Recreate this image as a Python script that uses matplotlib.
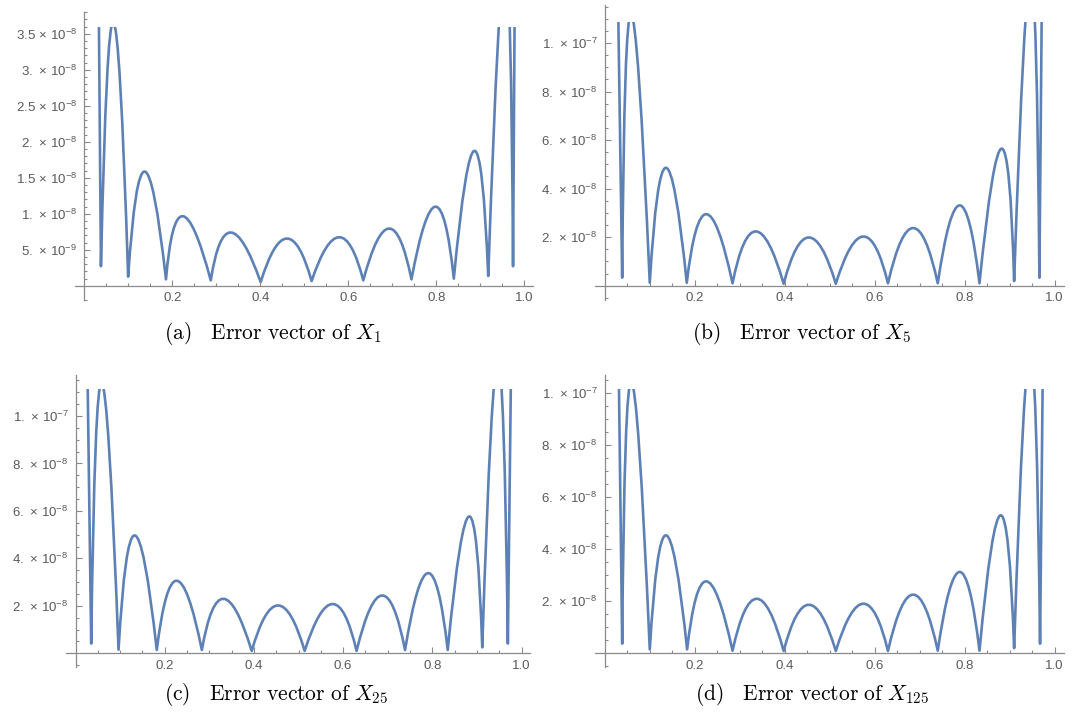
import matplotlib
matplotlib.use("Agg")
import matplotlib.pyplot as plt
from matplotlib.path import Path
from matplotlib.patches import PathPatch, Rectangle
from matplotlib.ticker import FixedLocator, NullFormatter

plt.rcParams['mathtext.fontset'] = 'custom'
plt.rcParams['mathtext.rm'] = 'Liberation Sans'
plt.rcParams['mathtext.it'] = 'Liberation Sans:italic'
plt.rcParams['mathtext.bf'] = 'Liberation Sans:bold'
plt.rcParams['font.family'] = ['Liberation Sans', 'DejaVu Sans']

# ---------------- data ----------------
captions = [r'$\mathrm{(a)\ \ \ Error\ vector\ of\ }X_{1}$',
            r'$\mathrm{(b)\ \ \ Error\ vector\ of\ }X_{5}$',
            r'$\mathrm{(c)\ \ \ Error\ vector\ of\ }X_{25}$',
            r'$\mathrm{(d)\ \ \ Error\ vector\ of\ }X_{125}$']

x_ticks = [0.2, 0.4, 0.6, 0.8, 1.0]
x_tick_labels = ['0.2', '0.4', '0.6', '0.8', '1.0']

# panel (a)
a_start = (0.0318, 45e-9)
a_end = (0.9785, 45e-9)
a_min_x = [0.0376, 0.0994, 0.1854, 0.2872, 0.4006, 0.5164, 0.6338, 0.7433, 0.8396, 0.9178, 0.9742]
a_min_y = [2.7e-9, 1.26e-9, 0.88e-9, 0.74e-9, 0.5e-9, 0.65e-9, 0.74e-9, 0.88e-9, 0.98e-9, 1.35e-9, 2.7e-9]
a_peak_x = [0.0657, 0.1369, 0.2230, 0.3326, 0.4601, 0.5790, 0.6925, 0.7981, 0.8865, 0.9560]
a_peak_y = [36.6e-9, 15.86e-9, 9.67e-9, 7.4e-9, 6.56e-9, 6.74e-9, 7.95e-9, 10.98e-9, 18.74e-9, 44.4e-9]
a_clip = 36.0e-9
a_yticks = [5e-9, 10e-9, 15e-9, 20e-9, 25e-9, 30e-9, 35e-9]
a_ylabels = [r'$5.\,\times\,10^{-9}$', r'$1.\,\times\,10^{-8}$', r'$1.5\,\times\,10^{-8}$',
             r'$2.\,\times\,10^{-8}$', r'$2.5\,\times\,10^{-8}$', r'$3.\,\times\,10^{-8}$',
             r'$3.5\,\times\,10^{-8}$']

# panel (b)
b_start = (0.0295, 125e-9)
b_end = (0.9722, 125e-9)
b_min_x = [0.0393, 0.1006, 0.1828, 0.2845, 0.3981, 0.5140, 0.6299, 0.7406, 0.8333, 0.9103, 0.9664]
b_min_y = [3.3e-9, 1.2e-9, 1.2e-9, 1.0e-9, 0.8e-9, 0.8e-9, 1.0e-9, 1.0e-9, 1.0e-9, 1.9e-9, 3.3e-9]
b_peak_x = [0.0590, 0.1364, 0.2262, 0.3361, 0.4542, 0.5755, 0.6860, 0.7893, 0.8826, 0.9470]
b_peak_y = [111.9e-9, 48.6e-9, 29.5e-9, 22.4e-9, 19.9e-9, 20.3e-9, 23.8e-9, 33.1e-9, 56.5e-9, 126.4e-9]
b_clip = 108.8e-9

# panel (c)
c_start = (0.0262, 128e-9)
c_end = (0.9770, 128e-9)
c_min_x = [0.0352, 0.0965, 0.1822, 0.2833, 0.3951, 0.5138, 0.6302, 0.7389, 0.8346, 0.9120, 0.9694]
c_min_y = [4.1e-9, 1.5e-9, 1.4e-9, 1.4e-9, 1.0e-9, 1.0e-9, 1.0e-9, 1.4e-9, 1.4e-9, 2.5e-9, 4.1e-9]
c_peak_x = [0.0585, 0.1325, 0.2266, 0.3315, 0.4541, 0.5766, 0.6876, 0.7910, 0.8828, 0.9470]
c_peak_y = [114e-9, 49.7e-9, 30.6e-9, 23.0e-9, 20.2e-9, 20.8e-9, 24.4e-9, 33.8e-9, 57.7e-9, 122.7e-9]
c_clip = 111.2e-9

# panel (d)
d_start = (0.0310, 118e-9)
d_end = (0.9745, 118e-9)
d_min_x = [0.0393, 0.1006, 0.1836, 0.2845, 0.3981, 0.5140, 0.6299, 0.7406, 0.8333, 0.9103, 0.9679]
d_min_y = [3.7e-9, 1.5e-9, 1.5e-9, 1.0e-9, 0.9e-9, 0.9e-9, 0.9e-9, 1.0e-9, 1.0e-9, 2.0e-9, 3.7e-9]
d_peak_x = [0.0595, 0.1364, 0.2262, 0.3383, 0.4542, 0.5755, 0.6860, 0.7893, 0.8804, 0.9460]
d_peak_y = [104.3e-9, 45.4e-9, 27.7e-9, 21.0e-9, 18.7e-9, 19.1e-9, 22.6e-9, 31.3e-9, 53.1e-9, 115.4e-9]
d_clip = 101.5e-9

bcd_yticks = [2e-8, 4e-8, 6e-8, 8e-8, 1e-7]
bcd_ylabels = [r'$2.\,\times\,10^{-8}$', r'$4.\,\times\,10^{-8}$', r'$6.\,\times\,10^{-8}$',
               r'$8.\,\times\,10^{-8}$', r'$1.\,\times\,10^{-7}$']

# ---------------- layout (pixels) ----------------
W, H = 1072, 715
LINE_COLOR = '#5e81b5'
AX_COLOR = '#8a8a8a'
LBL_COLOR = '#5a5a5a'

fig = plt.figure(figsize=(W / 100, H / 100), dpi=100)
fig.patch.set_facecolor('white')

panels = [
    dict(x0=84.4, y0=285.7, sx=440, sy=7.2e9, xlim=(-0.0214, 1.02), ylim=(-2.0e-9, 38.05e-9),
         start=a_start, end=a_end, mx=a_min_x, my=a_min_y, px=a_peak_x, py=a_peak_y, clip=a_clip,
         yt=a_yticks, yl=a_ylabels, ystep=1e-9, cap=captions[0], capxy=(273, 333)),
    dict(x0=604.5, y0=285.7, sx=450, sy=2.427e9, xlim=(-0.0214, 1.02), ylim=(-5.9e-9, 115.7e-9),
         start=b_start, end=b_end, mx=b_min_x, my=b_min_y, px=b_peak_x, py=b_peak_y, clip=b_clip,
         yt=bcd_yticks, yl=bcd_ylabels, ystep=5e-9, cap=captions[1], capxy=(802, 333)),
    dict(x0=75.5, y0=653.3, sx=446, sy=2.373e9, xlim=(-0.0214, 1.02), ylim=(-5.6e-9, 117.3e-9),
         start=c_start, end=c_end, mx=c_min_x, my=c_min_y, px=c_peak_x, py=c_peak_y, clip=c_clip,
         yt=bcd_yticks, yl=bcd_ylabels, ystep=5e-9, cap=captions[2], capxy=(276, 695)),
    dict(x0=604.5, y0=653.3, sx=450, sy=2.6e9, xlim=(-0.0214, 1.02), ylim=(-5.1e-9, 107e-9),
         start=d_start, end=d_end, mx=d_min_x, my=d_min_y, px=d_peak_x, py=d_peak_y, clip=d_clip,
         yt=bcd_yticks, yl=bcd_ylabels, ystep=5e-9, cap=captions[3], capxy=(812, 695)),
]


def build_path(start, mx, my, px, py, end):
    verts = [start, (mx[0], my[0])]
    codes = [Path.MOVETO, Path.LINETO]
    for i in range(len(px)):
        x0, y0 = mx[i], my[i]
        x1, y1 = mx[i + 1], my[i + 1]
        cx = 2 * px[i] - 0.5 * (x0 + x1)
        cy = 2 * py[i] - 0.5 * (y0 + y1)
        verts += [(cx, cy), (x1, y1)]
        codes += [Path.CURVE3, Path.CURVE3]
    verts.append(end)
    codes.append(Path.LINETO)
    return Path(verts, codes)


for p in panels:
    left = p['x0'] + p['xlim'][0] * p['sx']
    right = p['x0'] + p['xlim'][1] * p['sx']
    top = p['y0'] - p['ylim'][1] * p['sy']
    bottom = p['y0'] - p['ylim'][0] * p['sy']
    ax = fig.add_axes([left / W, 1 - bottom / H, (right - left) / W, (bottom - top) / H])
    ax.set_xlim(*p['xlim'])
    ax.set_ylim(*p['ylim'])
    ax.patch.set_alpha(0)

    for s in ('top', 'right'):
        ax.spines[s].set_visible(False)
    ax.spines['left'].set_position(('data', 0))
    ax.spines['bottom'].set_position(('data', 0))
    for s in ('left', 'bottom'):
        ax.spines[s].set_color(AX_COLOR)
        ax.spines[s].set_linewidth(0.9)

    # ticks
    ax.xaxis.set_major_locator(FixedLocator(x_ticks))
    ax.set_xticklabels(x_tick_labels)
    xminor = [round(0.05 * k, 2) for k in range(1, 21) if k % 4 != 0]
    ax.xaxis.set_minor_locator(FixedLocator(xminor))
    ax.yaxis.set_major_locator(FixedLocator(p['yt']))
    ax.set_yticklabels(p['yl'])
    n = int(round(p['ylim'][1] / p['ystep']))
    yminor = [k * p['ystep'] for k in range(1, n + 1)
              if all(abs(k * p['ystep'] - t) > 1e-12 for t in p['yt'])]
    yminor.append(-2e-9 if p['ystep'] < 2e-9 else -5e-9)
    ax.yaxis.set_minor_locator(FixedLocator(yminor))
    ax.yaxis.set_minor_formatter(NullFormatter())
    ax.xaxis.set_minor_formatter(NullFormatter())

    ax.tick_params(which='both', direction='in', color=AX_COLOR, width=0.8)
    ax.tick_params(which='major', length=4.2)
    ax.tick_params(which='minor', length=2.3)
    ax.tick_params(axis='x', which='major', labelsize=9.5, labelcolor=LBL_COLOR, pad=4.5)
    ax.tick_params(axis='y', which='major', labelsize=9.5, labelcolor=LBL_COLOR, pad=5)

    # curve
    path = build_path(p['start'], p['mx'], p['my'], p['px'], p['py'], p['end'])
    patch = PathPatch(path, fill=False, edgecolor=LINE_COLOR, lw=1.9,
                      joinstyle='round', capstyle='butt', transform=ax.transData)
    ax.add_patch(patch)
    clip_rect = Rectangle((p['xlim'][0], p['ylim'][0]), p['xlim'][1] - p['xlim'][0],
                          p['clip'] - p['ylim'][0], transform=ax.transData)
    patch.set_clip_path(clip_rect)

    fig.text(p['capxy'][0] / W, 1 - p['capxy'][1] / H, p['cap'], ha='center', va='center',
             fontsize=15.5, color='black', math_fontfamily='cm')

fig.savefig('out.png', dpi=100, facecolor='white')
